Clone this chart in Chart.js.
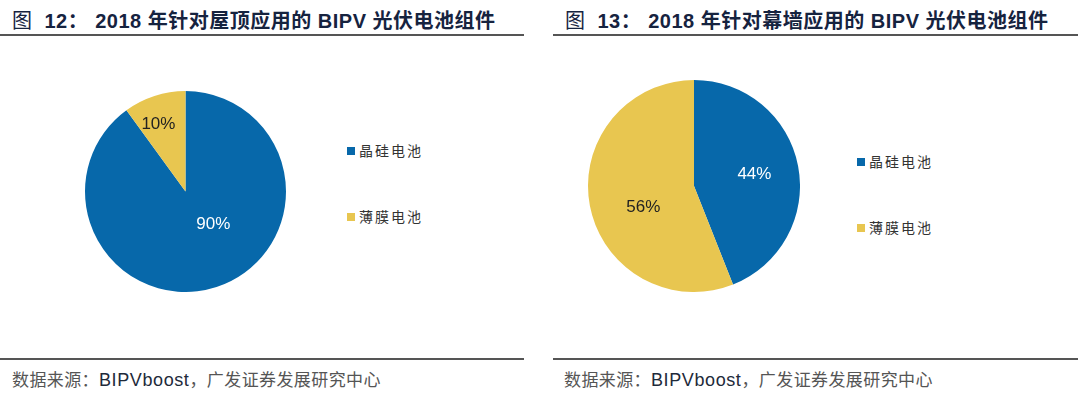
<!DOCTYPE html>
<html>
<head>
<meta charset="utf-8">
<script src="https://cdn.jsdelivr.net/npm/chart.js@4"></script>
<style>
  body { margin: 0; width: 1080px; height: 395px; background: #fff; position: relative; overflow: hidden;
         font-family: "Liberation Sans", "Noto Sans CJK SC", sans-serif; }
  .title { position: absolute; top: 5px; font-size: 20px; font-weight: bold; color: #16233f; white-space: nowrap; letter-spacing: 0.5px; }
  .title .fig { font-weight: normal; margin-right: 12px; }
  .title .sep { margin-right: 7px; }
  .rule { position: absolute; height: 2px; background: #555; }
  .src { position: absolute; top: 368px; font-size: 18px; color: #555; white-space: nowrap; line-height: 22px; }
  .src .cn { font-size: 17px; letter-spacing: 0.4px; font-family: "Noto Sans CJK SC", sans-serif; }
  .src .en { color: #1e2a3a; letter-spacing: 0.6px; }
  .pie { position: absolute; }
  .legend { position: absolute; font-family: "Noto Sans CJK SC", sans-serif; font-size: 14px; color: #333; letter-spacing: 2px; }
  .legend div { position: absolute; white-space: nowrap; line-height: 16px; }
  .legend span { display: inline-block; width: 8px; height: 8px; margin-right: 4px; vertical-align: 1px; }
</style>
</head>
<body>
<div class="title" style="left:12px"><span class="fig">图</span>12：<span class="sep"></span>2018 年针对屋顶应用的 BIPV 光伏电池组件</div>
<div class="rule" style="left:0; width:524px; top:34px"></div>
<div class="rule" style="left:553px; width:525px; top:34px"></div>
<div class="title" style="left:565px"><span class="fig">图</span>13：<span class="sep"></span>2018 年针对幕墙应用的 BIPV 光伏电池组件</div>

<canvas id="pie1" class="pie" style="left:85px; top:91px"></canvas>
<canvas id="pie2" class="pie" style="left:588px; top:80px"></canvas>
<div id="legend1" class="legend" style="left:347px; top:142px"></div>
<div id="legend2" class="legend" style="left:857px; top:153px"></div>

<div class="rule" style="left:0; width:524px; top:358px"></div>
<div class="rule" style="left:553px; width:525px; top:358px"></div>
<div class="src" style="left:12px"><span class="cn">数据来源：</span><span class="en">BIPVboost</span><span class="cn">，广发证券发展研究中心</span></div>
<div class="src" style="left:564px"><span class="cn">数据来源：</span><span class="en">BIPVboost</span><span class="cn">，广发证券发展研究中心</span></div>

<script>
const categories = ["晶硅电池", "薄膜电池"];
const roofShare = [90, 10];
const wallShare = [44, 56];

const sliceColors = ["#0768aa", "#e8c650"];
const labelColors = ["#ffffff", "#222222"];

// draws the "90%" style labels; each slice gets a radius fraction and optional angle (deg from top)
const pieLabels = {
  id: "pieLabels",
  afterDatasetsDraw(chart, args, opts) {
    const ctx = chart.ctx;
    const meta = chart.getDatasetMeta(0);
    const values = chart.data.datasets[0].data;
    ctx.save();
    ctx.font = "17px 'Liberation Sans', Arial, sans-serif";
    ctx.textAlign = "center";
    ctx.textBaseline = "middle";
    meta.data.forEach((arc, i) => {
      const place = opts.place[i];
      const ang = place[1] == null ? (arc.startAngle + arc.endAngle) / 2 : (place[1] - 90) * Math.PI / 180;
      const r = arc.outerRadius * place[0];
      ctx.fillStyle = labelColors[i];
      ctx.fillText(values[i] + "%", arc.x + Math.cos(ang) * r, arc.y + Math.sin(ang) * r);
    });
    ctx.restore();
  }
};

function makePie(id, values, size, place) {
  const canvas = document.getElementById(id);
  canvas.width = size;
  canvas.height = size;
  return new Chart(canvas, {
    type: "pie",
    plugins: [pieLabels],
    data: {
      labels: categories,
      datasets: [{
        data: values,
        backgroundColor: sliceColors,
        borderWidth: 0
      }]
    },
    options: {
      responsive: false,
      animation: false,
      layout: { padding: 0 },
      plugins: {
        legend: { display: false },
        tooltip: { enabled: false },
        pieLabels: { place: place }
      }
    }
  });
}

makePie("pie1", roofShare, 201, [[0.43, 140], [0.72, 338]]);
makePie("pie2", wallShare, 212, [[0.58, null], [0.52, 247]]);

function makeLegend(id, gap) {
  const box = document.getElementById(id);
  categories.forEach((name, i) => {
    const row = document.createElement("div");
    row.style.top = (i * gap) + "px";
    row.innerHTML = `<span style="background:${sliceColors[i]}"></span>${name}`;
    box.appendChild(row);
  });
}
makeLegend("legend1", 66);
makeLegend("legend2", 66);
</script>
</body>
</html>
